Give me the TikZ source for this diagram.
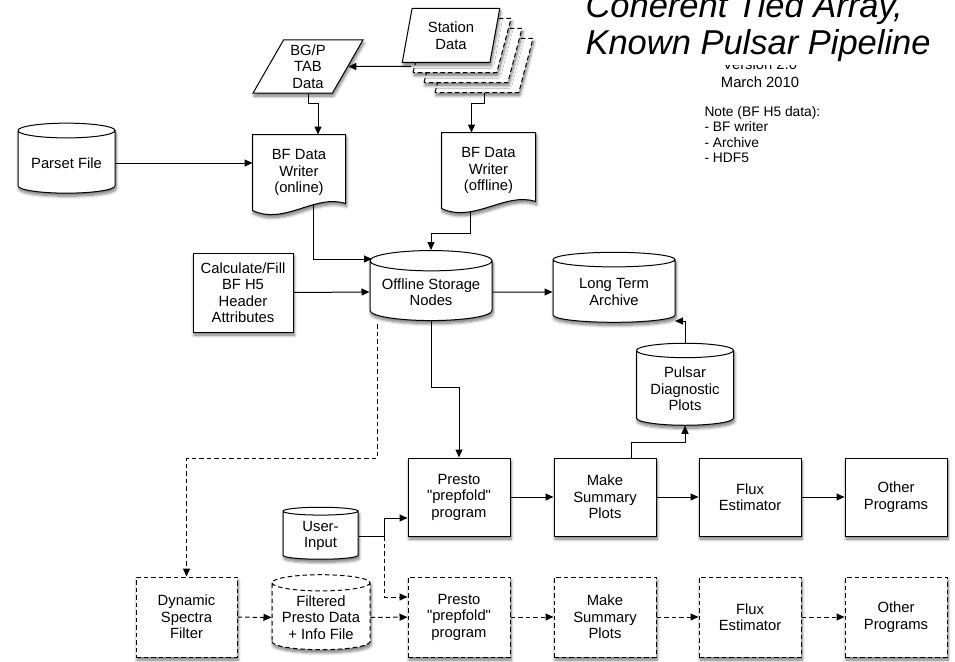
\documentclass[tikz,border=0pt]{standalone}
\usepackage{fontspec}
\setmainfont{Liberation Sans}[Ligatures=TeXOff]
\usetikzlibrary{
    calc,
    arrows.meta,
    shapes.geometric,
    shadows.blur
}
\newcommand{\boxfont}{\fontsize{14.8}{16.5}\selectfont}
\newcommand{\notefont}{\fontsize{13.8}{15.3}\selectfont}
\newcommand{\titlefont}{\fontsize{34.5}{37}\selectfont\itshape}
\tikzset{
  every path/.style={
    black,
    line width=1pt
  },
  every node/.style={
    font=\boxfont,
    align=center,
    inner sep=1.5pt
  },
  softshadow/.style={
    blur shadow={shadow xshift=1pt, shadow yshift=-3pt,
      shadow blur radius=3pt, shadow blur steps=8, shadow opacity=55}
  },
  dashline/.style={dash pattern=on 4.5pt off 3pt},
  procbox/.style={draw, fill=white, softshadow, minimum width=102, minimum height=78},
  dprocbox/.style={procbox, dashline, minimum height=80},
  storedb/.style={cylinder, shape border rotate=90, aspect=0.2, draw, fill=white, softshadow},
  datapar/.style={trapezium, trapezium stretches=true, draw, fill=white, softshadow},
  docpage/.style={minimum width=92, minimum height=75},
  docline/.style={draw, fill=white, softshadow},
  arr/.style={-{Triangle[length=8pt,width=7pt]}},
  darr/.style={arr, dashline}
}

\begin{document}
\begin{tikzpicture}[x=1pt,y=-1pt]
    \useasboundingbox (0,0) rectangle (955,661);

    % 見出し
    \node[anchor=base] (version) at (760,70) {Version 2.0};
    \node[font=\titlefont, align=left, anchor=south west, fill=white,
      inner xsep=0pt, inner ysep=3pt] (title) at (585,65.5)
      {Coherent Tied Array,\\Known Pulsar Pipeline};
    \node[anchor=base] (date) at (760,88) {March 2010};
    \node[font=\notefont, align=left, anchor=north west, inner sep=0pt] (note) at (704,106)
      {Note (BF H5 data):\\- BF writer\\- Archive\\- HDF5};

    % 入力データ
    \node[datapar, dashline, trapezium left angle=78.5, trapezium right angle=101.5,
      minimum width=98, minimum height=54] (stn3) at (484,65.5) {};
    \node[datapar, dashline, trapezium left angle=78.5, trapezium right angle=101.5,
      minimum width=98, minimum height=54] (stn2) at (473,55.5) {};
    \node[datapar, dashline, trapezium left angle=78.5, trapezium right angle=101.5,
      minimum width=98, minimum height=54] (stn1) at (462,45.5) {};
    \node[datapar, trapezium left angle=78.5, trapezium right angle=101.5,
      minimum width=98, minimum height=54] (stn) at (451,35.5) {Station\\Data};
    \node[datapar, trapezium left angle=63, trapezium right angle=117,
      minimum width=110, minimum height=53] (bgp) at (308,66.5) {BG/P\\TAB\\Data};
    \node[storedb, minimum width=97, minimum height=70] (parset) at (66.5,163) {Parset File};

    % BF writer (波形の下辺を先に描いてから文字)
    \node[docpage] (online) at (299,172.5) {};
    \node[docpage, minimum width=93] (offline) at (488.5,170.5) {};
    \foreach \doc in {online,offline}
      \draw[docline] (\doc.north west) -- (\doc.north east) -- ($(\doc.south east)+(0,-7)$)
        .. controls ($(\doc.south east)+(-30,-17)$) and ($(\doc.south west)+(32,15)$)
        .. (\doc.south west) -- cycle;
    \node at (online) {BF Data\\Writer\\(online)};
    \node at (offline) {BF Data\\Writer\\(offline)};

    % 保存
    \node[procbox, minimum width=100, minimum height=79] (calc) at (243,292.5)
      {Calculate/Fill\\BF H5\\Header\\Attributes};
    \node[storedb, minimum width=122, minimum height=70] (storage) at (431,292) {Offline Storage\\Nodes};
    \node[storedb, minimum width=122, minimum height=70] (archive) at (614,292) {Long Term\\Archive};
    \node[storedb, minimum width=97, minimum height=82] (pulsar) at (685,389) {Pulsar\\Diagnostic\\Plots};

    % 処理 (実線)
    \node[procbox] (presto) at (459,497) {Presto\\"prepfold"\\program};
    \node[procbox] (make) at (605,497) {Make\\Summary\\Plots};
    \node[procbox] (flux) at (750,497) {Flux\\Estimator};
    \node[procbox] (other) at (896,497) {Other\\Programs};
    \node[storedb, minimum width=75, minimum height=52] (user) at (320.5,536) {User-\\Input};

    % 処理 (破線)
    \node[dprocbox, minimum width=101] (dyn) at (186.5,617) {Dynamic\\Spectra\\Filter};
    \node[storedb, dashline, minimum width=98, minimum height=75] (filt) at (321,617.5)
      {Filtered\\Presto Data\\+ Info File};
    \node[dprocbox] (presto2) at (459,617) {Presto\\"prepfold"\\program};
    \node[dprocbox] (make2) at (605,617) {Make\\Summary\\Plots};
    \node[dprocbox] (flux2) at (750,617) {Flux\\Estimator};
    \node[dprocbox] (other2) at (896,617) {Other\\Programs};

    % 接続
    \coordinate (stnout) at (411,66.5);
    \draw[arr] (stnout) -- (bgp.east);
    \draw[arr] (bgp.south) -- ++(0,10) -| ($(online.north)+(19,0)$);
    \draw[arr] (stn3.south) -- ++(0,10) -| ($(offline.north)+(-17,0)$);
    \draw[arr] (parset.east) -- (parset.east -| online.west);
    \draw[arr] ($(online.south)+(14,-6)$) |- ($(storage.center)+(-59,-33)$);
    \draw[arr] ($(offline.south)+(-18,3)$) -- ++(0,22) -| (storage.north);
    \draw[arr] (calc.east) -- (storage.west);
    \draw[arr] (storage.east) -- (archive.west);
    \draw[arr] (storage.south) -- ++(0,66) -| (presto.north);
    \draw[darr] ($(storage.center)+(-54,32)$) -- ++(0,134) -| (dyn.north);
    \draw[arr] ($(make.north)+(26,0)$) -- ++(0,-15) -| (pulsar.south);
    \draw[arr] (pulsar.north) |- ($(archive.center)+(61,29)$);
    \draw[arr] (user.east) -- ++(26,0) |- ($(presto.west)+(0,21)$);
    \draw[darr] ($(user.east)+(26,0)$) |- ($(presto2.west)+(0,-20)$);

    \draw[arr] (presto) -- (make);
    \draw[arr] (make) -- (flux);
    \draw[arr] (flux) -- (other);
    \draw[darr] (dyn) -- (filt);
    \draw[darr] (filt) -- (presto2);
    \draw[darr] (presto2) -- (make2);
    \draw[darr] (make2) -- (flux2);
    \draw[darr] (flux2) -- (other2);
\end{tikzpicture}
\end{document}
